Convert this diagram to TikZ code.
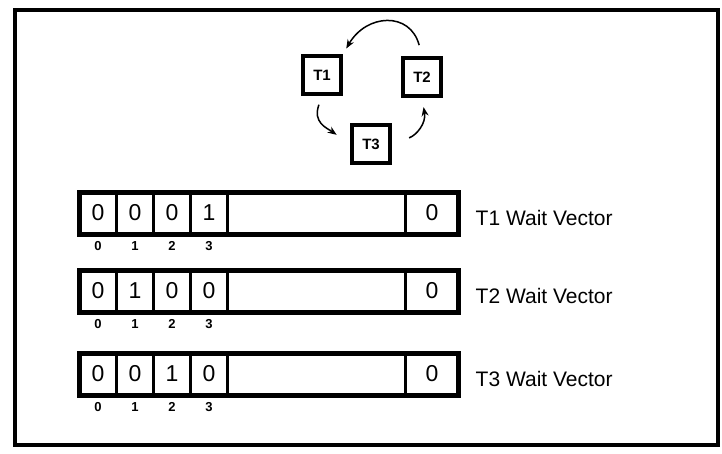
\documentclass[tikz,border=0pt]{standalone}
\usepackage{fontspec}
\setmainfont{Liberation Sans}
\usetikzlibrary{arrows.meta, positioning}

\begin{document}
\begin{tikzpicture}[x=1pt, y=1pt,
    task/.style={draw, line width=4.5pt, minimum size=38pt, inner sep=0pt, font=\bfseries\fontsize{15}{17}\selectfont},
    cell/.style={draw, line width=2.5pt, minimum height=42pt, minimum width=37pt, inner sep=0pt, outer sep=0pt, font=\fontsize{23}{27}\selectfont},
    index/.style={inner sep=0pt, font=\bfseries\fontsize{13}{15}\selectfont},
    vlabel/.style={inner sep=0pt, anchor=west, font=\fontsize{21}{25}\selectfont},
    flow/.style={line width=1.5pt, -{Stealth[length=9pt, width=7pt]}}]
    \useasboundingbox (0,0) rectangle (722,-453);

    % Frame
    \draw[line width=3.5pt] (15,-10) rectangle (718,-445);

    % Tasks waiting on each other
    \node[task] (T1) at (322,-75) {T1};
    \node[task] (T2) at (422,-77) {T2};
    \node[task] (T3) at (371,-144) {T3};

    \draw[flow, shorten <=11pt, shorten >=6pt] (T2.north) to[out=105, in=60, looseness=1.5] (T1.north east);
    \draw[flow, shorten <=9pt, shorten >=16pt] (T1.south) to[out=250, in=145, looseness=1.3] (T3.west);
    \draw[flow, shorten <=18pt, shorten >=9pt] (T3.east) to[out=20, in=-80, looseness=1.2] (T2.south);

    % Wait vectors
    \foreach \row/\y/\a/\b/\c/\d in {1/213/0/0/0/1, 2/291/0/1/0/0, 3/374/0/0/1/0} {
        \node[cell] (r\row c0) at (98,-\y) {\a};
        \node[cell, right=0pt of r\row c0] (r\row c1) {\b};
        \node[cell, right=0pt of r\row c1] (r\row c2) {\c};
        \node[cell, right=0pt of r\row c2] (r\row c3) {\d};
        \node[cell, right=0pt of r\row c3, minimum width=178pt] (r\row c4) {};
        \node[cell, right=0pt of r\row c4, minimum width=53pt] (r\row c5) {0};
        \draw[line width=5pt] (r\row c0.north west) rectangle (r\row c5.south east);
        \foreach \i in {0,...,3}
            \node[index, below=7pt of r\row c\i] (r\row i\i) {\i};
        \node[vlabel, right=17pt of r\row c5, yshift=-5pt] (r\row lab) {T\row{} Wait Vector};
    }
\end{tikzpicture}
\end{document}
